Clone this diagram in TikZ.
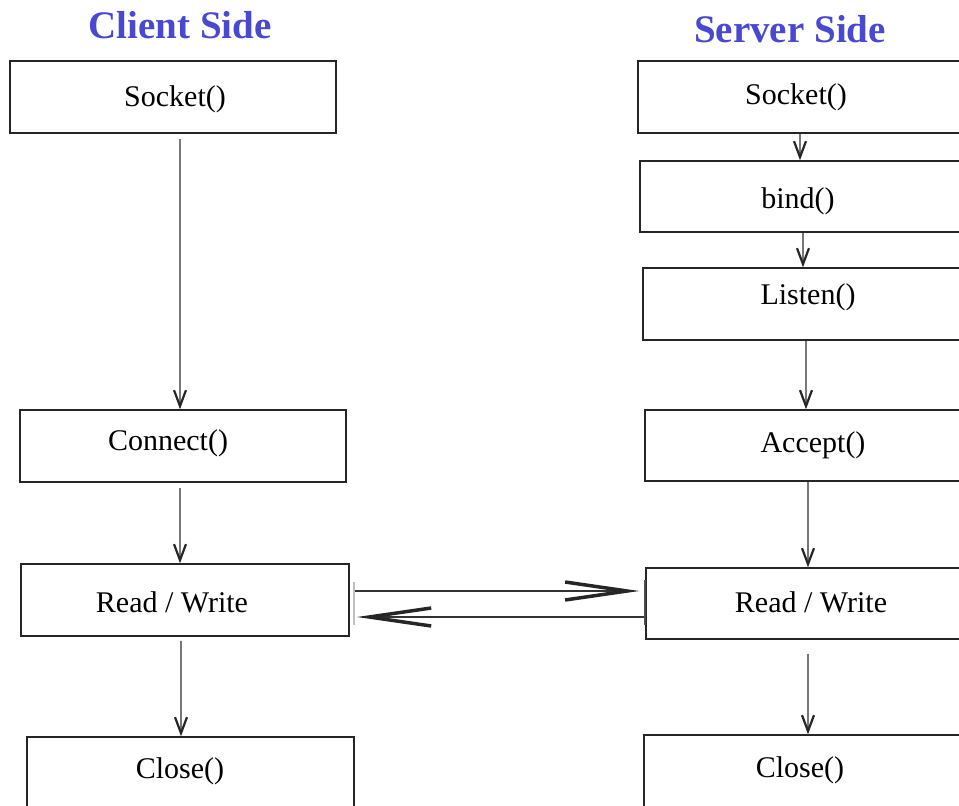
\documentclass[tikz,border=0pt]{standalone}
\usepackage{fontspec}
\setmainfont{Liberation Serif}
\usetikzlibrary{arrows.meta}
\definecolor{ttl}{RGB}{72,72,208}
\definecolor{shaft}{RGB}{120,120,120}
\tikzset{
  box/.style={draw=black!85, line width=1.4pt, rectangle, inner sep=0pt, minimum height=72pt},
  txt/.style={inner sep=0pt, font=\fontsize{30}{33}\selectfont},
  ttlstyle/.style={inner sep=0pt, text=ttl, font=\fontsize{39}{42}\selectfont\bfseries},
  varr/.style={draw=shaft, line width=1.1pt, -{Straight Barb[length=16pt,width=12pt,line width=2.2pt,color=black!85]}},
  harr/.style={draw=black!80, line width=2pt, -{Straight Barb[length=62pt,width=18pt,line width=3.5pt,color=black!85]}}
}
\begin{document}
\begin{tikzpicture}[x=1pt,y=-1pt]
\useasboundingbox (0,0) rectangle (959,806);
% titles
\node[ttlstyle] (tc) at (180,25) {Client Side};
\node[ttlstyle] (tsv) at (790,29) {Server Side};
% client boxes
\node[box, minimum width=326pt] (cs) at (173,97) {};
\node[txt] at (175,99) {Socket()};
\node[box, minimum width=326pt] (cc) at (183,446) {};
\node[txt] at (168,443) {Connect()};
\node[box, minimum width=328pt] (crw) at (185,600) {};
\node[txt] at (172,602) {Read / Write};
\node[box, minimum width=327pt, minimum height=76pt] (ccl) at (190.5,775) {};
\node[txt] at (180,771) {Close()};
% server boxes
\node[box, minimum width=324pt] (ss) at (800,97) {};
\node[txt] at (796,97) {Socket()};
\node[box, minimum width=322pt, minimum height=71pt] (sb) at (801,196.5) {};
\node[txt] at (798,201) {bind()};
\node[box, minimum width=319pt] (sl) at (802.5,304) {};
\node[txt] at (808,297) {Listen()};
\node[box, minimum width=317pt, minimum height=71pt] (sa) at (803.5,445.5) {};
\node[txt] at (813,445) {Accept()};
\node[box, minimum width=316pt, minimum height=71pt] (srw) at (804,603.5) {};
\node[txt] at (811,602) {Read / Write};
\node[box, minimum width=318pt, minimum height=78pt] (scl) at (803,774) {};
\node[txt] at (800,770) {Close()};
% client arrows
\draw[varr] ([yshift=-5pt]cs.south -| 180,0) -- (cc.north -| 180,0);
\draw[varr] ([yshift=-5pt]cc.south -| 180,0) -- (crw.north -| 180,0);
\draw[varr] ([yshift=-4pt]crw.south -| 181,0) -- (ccl.north -| 181,0);
% server arrows
\draw[varr] (ss.south -| 800,0) -- (sb.north -| 800,0);
\draw[varr] (sb.south -| 803,0) -- (sl.north -| 803,0);
\draw[varr] (sl.south -| 806,0) -- (sa.north -| 806,0);
\draw[varr] (sa.south -| 808,0) -- (srw.north -| 808,0);
\draw[varr] ([yshift=-14pt]srw.south -| 808,0) -- (scl.north -| 808,0);
% exchange arrows
\draw[harr] (353,591) -- ([xshift=-6pt]srw.west |- 0,591);
\draw[harr] (srw.west |- 0,617) -- (357,617);
\draw[black!25, line width=2pt] (354,582) -- (354,625);
\draw[black!70, line width=2.5pt] (645,580) -- (645,625);
\end{tikzpicture}
\end{document}
